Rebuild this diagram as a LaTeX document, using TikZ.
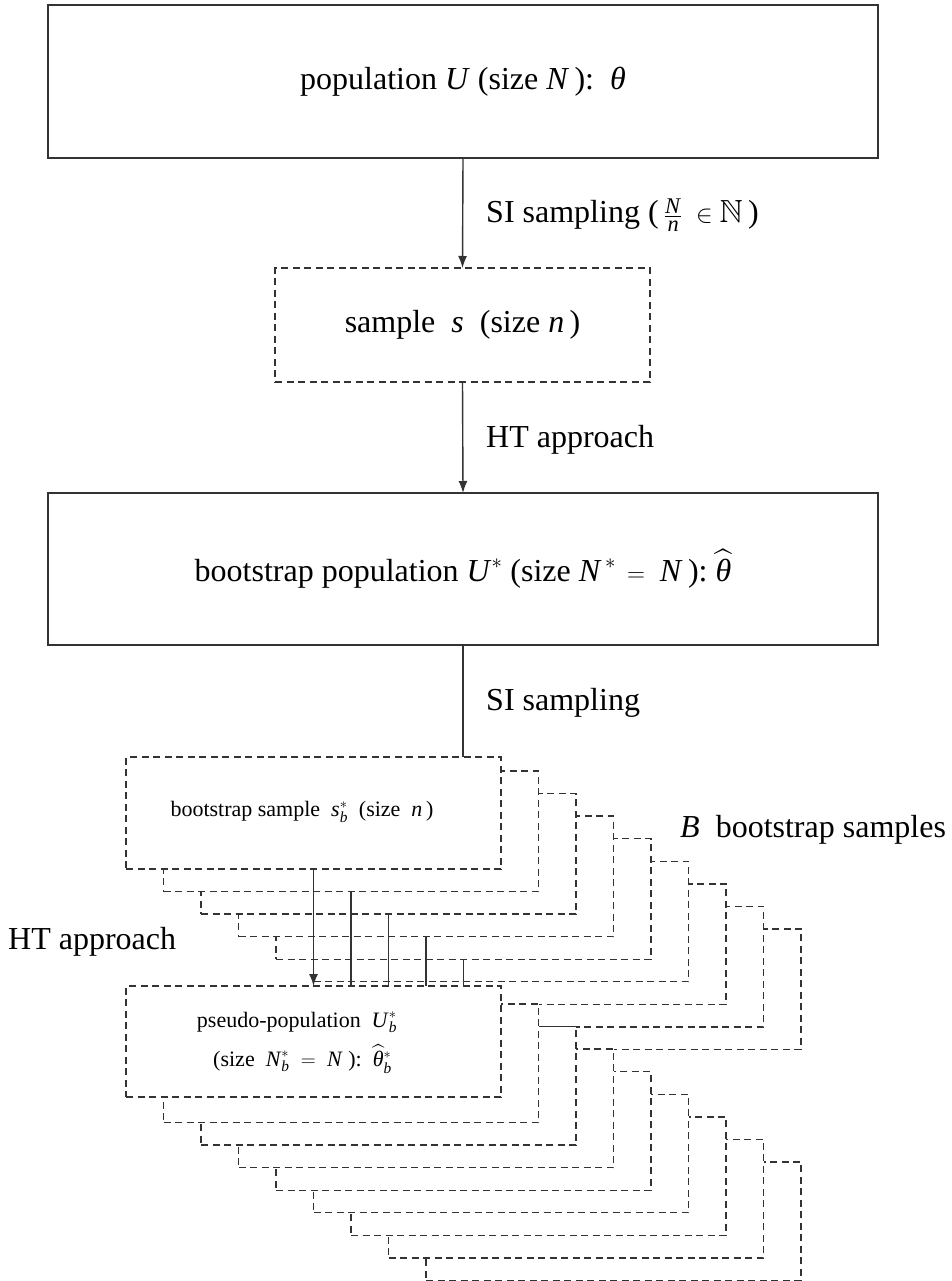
\documentclass[tikz,border=0pt]{standalone}
\usepackage{amsmath,amssymb}
\usepackage{fontspec}
\setmainfont{Liberation Serif}
\usetikzlibrary{arrows.meta}
\definecolor{linec}{HTML}{333333}
\newcommand\mi[1]{\text{\textit{#1}}}
\newcommand\mainsize{\fontsize{32}{38}\selectfont}
\newcommand\boxsize{\fontsize{22}{39}\selectfont}
\begin{document}
\begin{tikzpicture}[x=1pt,y=-1pt,
  solidbox/.style={draw=linec, line width=1.4pt, fill=white, inner sep=0pt, outer sep=0pt},
  dashbox/.style={draw=linec, line width=1.4pt, dash pattern=on 7pt off 4.5pt, fill=white,
                  inner sep=0pt, outer sep=0pt, minimum width=375pt},
  conn/.style={draw=linec, line width=1.4pt},
  arr/.style={conn, -{Latex[length=12pt,width=9pt]}},
  lbl/.style={anchor=west, inner sep=0pt, font=\mainsize},
  boxtext/.style={inner sep=0pt, font=\boxsize, align=center}]
\useasboundingbox (0,0) rectangle (952,1281);

% top part
\node[solidbox, minimum width=830pt, minimum height=153pt, font=\mainsize] (pop) at (463,81.5)
  {population \textit{U} (size \textit{N}\,):\ \ \textit{θ}};
\node[dashbox, minimum height=114pt, font=\mainsize] (samp) at (462.5,325)
  {sample \ \textit{s}\ \ (size \textit{n}\,)};
\node[solidbox, minimum width=830pt, minimum height=152pt, font=\mainsize] (bpop) at (463,569)
  {bootstrap population $\mi{U}^{*}$ (size $\mi{N}^{\,*}\,=\ \mi{N}$\,):\ $\widehat{\mi{θ}}$};

\draw[arr] (pop.south) -- (samp.north);
\draw[arr] (samp.south) -- (bpop.north);

\node[lbl] (l1) at (486,215) {SI sampling (\,$\frac{\mi{N}}{\mi{n}}\;\in\mathbb{N}$\,)};
\node[lbl] (l2) at (486,440) {HT approach};
\node[lbl] (l3) at (486,703) {SI sampling};
\node[lbl] (l4) at (680,830) {\textit{B}\ \ bootstrap samples};
\node[lbl] (l5) at (8,942) {HT approach};

% bootstrap sample stack
\foreach \k in {8,7,...,1}{
  \node[dashbox, minimum height=120.5pt] (bs\k) at ({313.5+37.5*\k},{808.75+22.55*\k}) {};
}
\node[dashbox, minimum height=112pt] (bs0) at (313.5,813) {};
\node[boxtext] (bst) at (302,812) {bootstrap sample \ $\mi{s}^{*}_{\mi{b}}$\ \ (size \ \textit{n}\,)};

\draw[conn] (bpop.south) -- (bpop.south |- bs0.north);

% pseudo-population stack
\coordinate (pstop) at (0,986);
\draw[arr] (bs0.south) -- (bs0.south |- pstop);
\foreach \k in {1,2,3,4}{
  \draw[conn] (bs\k.south) -- (bs\k.south |- pstop);
}
\foreach \k in {8,7,...,1}{
  \node[dashbox, minimum height=118.5pt] (ps\k) at ({313.5+37.5*\k},{1040.75+22.55*\k}) {};
}
\node[dashbox, minimum height=111pt] (ps0) at (313.5,1041.5) {};
\node[boxtext] (pst) at (297,1042.5)
  {pseudo-population \ $\mi{U}^{*}_{\mi{b}}$\\
   \ \ (size \ $\mi{N}^{*}_{\mi{b}}\ =\ \mi{N}$\ ):\ \ $\widehat{\mi{θ}}{}^{*}_{\mi{b}}$};
\end{tikzpicture}
\end{document}
